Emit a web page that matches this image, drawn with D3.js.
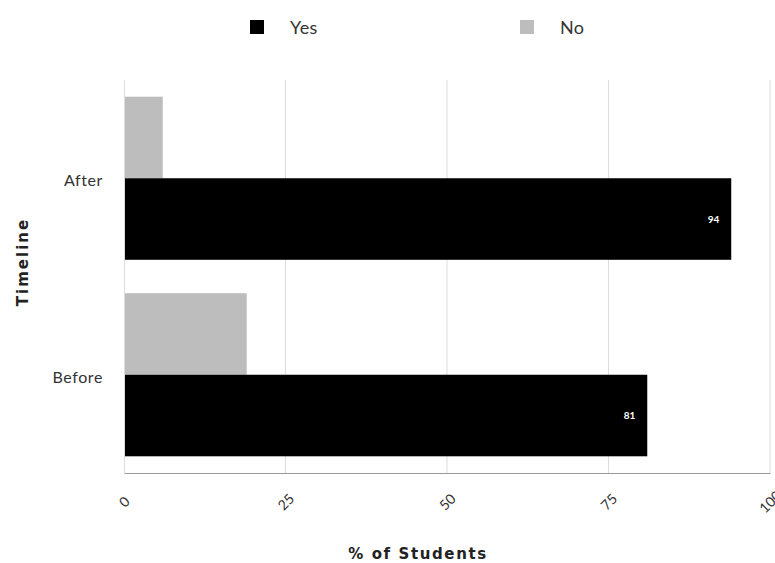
<!DOCTYPE html>
<html>
<head>
<meta charset="utf-8">
<script src="https://cdn.jsdelivr.net/npm/d3@7"></script>
<style>
  body { margin: 0; background: #fff; }
  text { font-family: Lato, "Open Sans", sans-serif; }
  text.axis-title { font-family: "DejaVu Sans", sans-serif; }
</style>
</head>
<body>
<svg id="chart" width="775" height="563"></svg>
<script>
// Survey answers by timeline, percent of students
const categories = ["After", "Before"];
const seriesNames = ["No", "Yes"];
const yesValues = [94, 81];
const noValues = [6, 19];
const xTicks = [0, 25, 50, 75, 100];
const colors = { Yes: "#000000", No: "#bdbdbd" };

const svg = d3.select("#chart");
const margin = { left: 124, top: 80, bottom: 91 };
const H = 563;
const plotW = 770 - margin.left;
const plotH = H - margin.top - margin.bottom + 1;

const g = svg.append("g").attr("transform", `translate(${margin.left},${margin.top})`);

const x = d3.scaleLinear().domain([0, 100]).range([0, plotW]);
const y = d3.scaleBand().domain(categories).range([0, plotH]).paddingInner(0.17).paddingOuter(0.085);
const ySub = d3.scaleBand().domain(seriesNames).range([0, y.bandwidth()]);

// vertical gridlines
g.selectAll(".grid").data(xTicks.slice(1)).enter().append("line")
  .attr("x1", d => x(d)).attr("x2", d => x(d))
  .attr("y1", 0).attr("y2", plotH)
  .attr("stroke", "#dcdcdc").attr("stroke-width", 1);

const rows = categories.map((c, i) => ({ cat: c, Yes: yesValues[i], No: noValues[i] }));

// grouped bars
rows.forEach(r => {
  seriesNames.forEach(s => {
    g.append("rect")
      .attr("x", x(0) + 1)
      .attr("y", y(r.cat) + ySub(s))
      .attr("width", x(r[s]) - x(0) - 1)
      .attr("height", ySub.bandwidth())
      .attr("fill", colors[s]);
  });
  // value label inside the end of the Yes bar
  g.append("text")
    .attr("x", x(r.Yes) - 12)
    .attr("y", y(r.cat) + ySub("Yes") + ySub.bandwidth() / 2)
    .attr("dy", "0.35em")
    .attr("text-anchor", "end")
    .attr("fill", "#fff")
    .attr("font-size", 10)
    .attr("font-weight", "bold")
    .text(r.Yes);
});

// x axis
const xAxis = g.append("g").attr("transform", `translate(0,${plotH})`)
  .call(d3.axisBottom(x).tickValues(xTicks).tickSize(0).tickFormat(d3.format("d")));
xAxis.select(".domain").attr("stroke", "#999");
xAxis.selectAll("text")
  .attr("font-size", 14).attr("fill", "#333")
  .attr("text-anchor", "middle")
  .attr("dy", "0.35em").attr("y", 0)
  .attr("transform", "translate(0,29) rotate(-45)");

// y axis
const yAxis = g.append("g")
  .call(d3.axisLeft(y).tickSize(0).tickPadding(21));
yAxis.select(".domain").attr("stroke", "#ddd");
yAxis.selectAll("text").attr("font-size", 16).attr("fill", "#333")
  .attr("letter-spacing", "0.6px")
  .attr("dy", "0.5em");

// axis titles
svg.append("text")
  .attr("class", "axis-title")
  .attr("x", 418).attr("y", 559)
  .attr("text-anchor", "middle")
  .attr("font-size", 15).attr("font-weight", "bold").attr("fill", "#222")
  .attr("letter-spacing", "1.6px")
  .text("% of Students");

svg.append("text")
  .attr("class", "axis-title")
  .attr("transform", `translate(28,262) rotate(-90)`)
  .attr("text-anchor", "middle")
  .attr("font-size", 15).attr("font-weight", "bold").attr("fill", "#222")
  .attr("letter-spacing", "2px")
  .text("Timeline");

// legend
const legendItems = [{ name: "Yes", x: 250 }, { name: "No", x: 520 }];
const lg = svg.selectAll(".legend").data(legendItems).enter().append("g")
  .attr("transform", d => `translate(${d.x},20)`);
lg.append("rect").attr("width", 14).attr("height", 14).attr("fill", d => colors[d.name]);
lg.append("text").attr("x", 40).attr("y", 7).attr("dy", "0.37em")
  .attr("font-size", 18).attr("fill", "#333").attr("letter-spacing", "0.4px")
  .text(d => d.name);
</script>
</body>
</html>
